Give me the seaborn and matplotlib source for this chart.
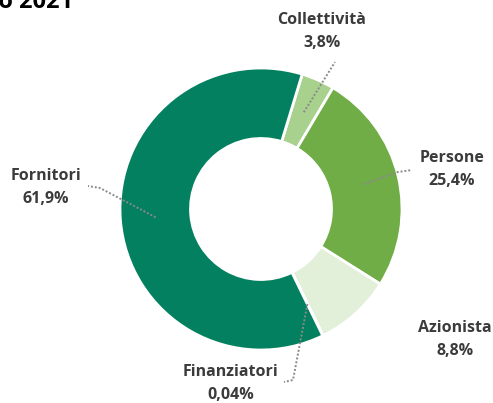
import numpy as np
import matplotlib
matplotlib.use("Agg")
import matplotlib.pyplot as plt
import seaborn as sns

# ---- data ----
categories = ["Collettività", "Persone", "Azionista", "Finanziatori", "Fornitori"]
values = [3.8, 25.4, 8.8, 0.04, 61.9]
value_labels = ["3,8%", "25,4%", "8,8%", "0,04%", "61,9%"]
colors = ["#a9d18e", "#70ad47", "#e2efd9", "#03805f", "#03805f"]
title_text = "Valore economico distribuito 2021"

sns.set_theme(style="white")
plt.rcParams["font.family"] = ["Open Sans", "DejaVu Sans"]

W, H = 493, 403
fig = plt.figure(figsize=(W / 100, H / 100), dpi=100)
cx, cy, R = 261, 209, 141
ax = fig.add_axes([(cx - R) / W, (H - cy - R) / H, 2 * R / W, 2 * R / H])

start = 90 - 17
wedges, _ = ax.pie(values, colors=colors, startangle=start, counterclock=False,
                   radius=1, wedgeprops=dict(width=0.5, edgecolor="white", linewidth=2))
ax.set_xlim(-1, 1)
ax.set_ylim(-1, 1)
ax.axis("off")


def px(x, y):
    return (x - cx) / R, (cy - y) / R


total = sum(values)
cum = 0
mids = []
for v in values:
    mids.append(start - (cum + v / 2) / total * 360)
    cum += v

line_paths = {
    "Collettività": [(335, 62)],
    "Persone": [(398, 172), (412, 170)],
    "Finanziatori": [(293, 380), (284, 382)],
    "Fornitori": [(100, 188), (88, 186)],
}
label_pos = {
    "Collettività": (322, 20),
    "Persone": (452, 158),
    "Azionista": (455, 328),
    "Finanziatori": (231, 372),
    "Fornitori": (46, 176),
}
tc = "#3b3b3b"
for cat, lab, ang in zip(categories, value_labels, mids):
    if cat in line_paths:
        a = np.deg2rad(ang)
        xs = [0.75 * np.cos(a)]
        ys = [0.75 * np.sin(a)]
        for p in line_paths[cat]:
            x, y = px(*p)
            xs.append(x)
            ys.append(y)
        ax.plot(xs, ys, color="#8a8a8a", lw=1.4, ls=(0, (1, 1)), clip_on=False)
    lx, ly = px(*label_pos[cat])
    ax.text(lx, ly, cat, ha="center", va="center", fontsize=11.5, color=tc,
            fontweight="bold", clip_on=False)
    lx2, ly2 = px(label_pos[cat][0], label_pos[cat][1] + 23)
    ax.text(lx2, ly2, lab, ha="center", va="center", fontsize=11.5, color=tc,
            fontweight="bold", clip_on=False)

fig.text(73 / W, 1 - 8 / H, title_text, ha="right", va="baseline",
         fontsize=17, fontweight="bold", color="black")

fig.savefig("out.png", dpi=100)
